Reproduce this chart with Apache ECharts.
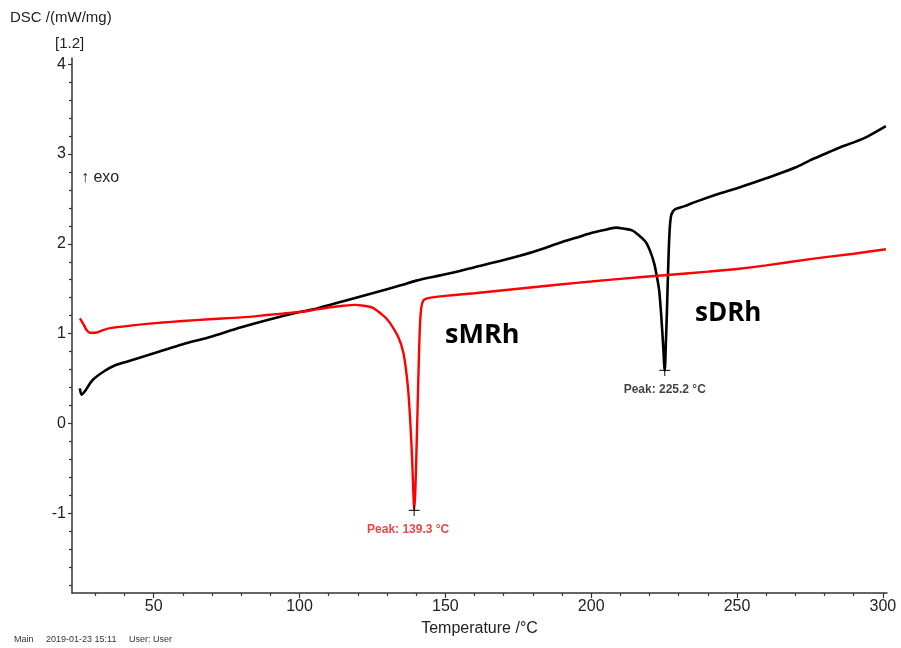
<!DOCTYPE html>
<html>
<head>
<meta charset="utf-8">
<title>DSC</title>
<script src="https://cdn.jsdelivr.net/npm/echarts@6/dist/echarts.min.js"></script>
<style>
  html, body { margin: 0; padding: 0; background: #fff; }
  #chart { width: 901px; height: 648px; }
</style>
</head>
<body>
<div id="chart"></div>
<script>
// sMRh run (red trace)
const tempRed = [24.7, 26, 27, 28.1, 30, 32, 35, 40, 45, 52, 60, 69, 80, 90, 100, 106, 110, 115, 119, 122, 125, 128, 130, 132, 134, 135.5, 136.5, 137.3, 138, 138.6, 139, 139.3, 139.7, 140.1, 140.5, 140.9, 141.3, 141.8, 142.5, 143.5, 145, 150, 160, 175, 190, 200, 210, 225, 240, 250, 260, 275, 290, 301];
const dscRed = [1.17, 1.10, 1.04, 1.01, 1.01, 1.03, 1.06, 1.08, 1.10, 1.12, 1.14, 1.16, 1.18, 1.21, 1.24, 1.27, 1.29, 1.31, 1.32, 1.31, 1.29, 1.22, 1.16, 1.07, 0.95, 0.80, 0.60, 0.35, 0.0, -0.4, -0.75, -0.97, -0.75, -0.3, 0.2, 0.7, 1.1, 1.3, 1.37, 1.39, 1.40, 1.42, 1.45, 1.50, 1.55, 1.58, 1.61, 1.65, 1.69, 1.72, 1.76, 1.83, 1.89, 1.94];

// sDRh run (black trace)
const tempBlack = [24.7, 25.3, 26.5, 29, 33, 37, 41, 46, 52, 60, 69, 80, 90, 100, 106, 115, 125, 135, 140, 150, 160, 170, 180, 190, 196, 200, 204, 208.5, 211, 214, 216.5, 218.7, 220.3, 221.6, 222.6, 223.3, 224, 224.6, 225.2, 225.6, 226, 226.4, 226.8, 227.3, 228, 229, 232, 236, 244, 250, 260, 270, 275, 280, 285, 290, 295, 301];
const dscBlack = [0.39, 0.32, 0.36, 0.48, 0.58, 0.65, 0.69, 0.74, 0.80, 0.88, 0.96, 1.07, 1.16, 1.24, 1.28, 1.36, 1.45, 1.54, 1.59, 1.66, 1.74, 1.82, 1.91, 2.02, 2.08, 2.12, 2.15, 2.18, 2.17, 2.15, 2.09, 2.02, 1.91, 1.78, 1.62, 1.48, 1.20, 0.90, 0.59, 0.90, 1.30, 1.75, 2.10, 2.30, 2.36, 2.39, 2.42, 2.47, 2.56, 2.62, 2.73, 2.85, 2.93, 3.00, 3.07, 3.13, 3.20, 3.31];

// Peak annotations
const peakTempRed = 139.3, peakValRed = -0.97;
const peakTempBlack = 225.2, peakValBlack = 0.59;

// Axis ticks
const xMajorTicks = [50, 100, 150, 200, 250, 300];
const xMinorTicks = [30, 40, 60, 70, 80, 90, 110, 120, 130, 140, 160, 170, 180, 190, 210, 220, 230, 240, 260, 270, 280, 290];
const yMajorTicks = [-1, 0, 1, 2, 3, 4];
const yMinorTicks = [-1.8, -1.6, -1.4, -1.2, -0.8, -0.6, -0.4, -0.2, 0.2, 0.4, 0.6, 0.8, 1.2, 1.4, 1.6, 1.8, 2.2, 2.4, 2.6, 2.8, 3.2, 3.4, 3.6, 3.8];

const X_MIN = 22, X_MAX = 301.4, Y_MIN = -1.89, Y_MAX = 4.07;
const FONT = '"Liberation Sans", Arial, sans-serif';

const zip = (a, b) => a.map((v, i) => [v, b[i]]);
const plus = 'path://M0,5L10,5M5,0L5,10';

const chart = echarts.init(document.getElementById('chart'), null, { renderer: 'canvas' });

chart.setOption({
  animation: false,
  backgroundColor: '#fff',
  grid: { left: 72, right: 14, top: 58, bottom: 55, containLabel: false },
  xAxis: [
    {
      type: 'value', min: X_MIN, max: X_MAX,
      name: 'Temperature /°C', nameLocation: 'middle', nameGap: 28,
      nameTextStyle: { fontFamily: FONT, fontSize: 16, color: '#222' },
      axisLine: { show: true, onZero: false, lineStyle: { color: '#333', width: 1.5 } },
      axisTick: { show: true, customValues: xMajorTicks, length: 5, lineStyle: { color: '#333', width: 1.2 } },
      axisLabel: { customValues: xMajorTicks, fontFamily: FONT, fontSize: 16, color: '#222', margin: 6 },
      splitLine: { show: false }
    },
    {
      type: 'value', min: X_MIN, max: X_MAX, position: 'bottom',
      axisLine: { show: false, onZero: false },
      axisTick: { show: true, customValues: xMinorTicks, length: 3, lineStyle: { color: '#333', width: 1.2 } },
      axisLabel: { show: false },
      splitLine: { show: false }
    }
  ],
  yAxis: [
    {
      type: 'value', min: Y_MIN, max: Y_MAX,
      axisLine: { show: true, onZero: false, lineStyle: { color: '#333', width: 1.5 } },
      axisTick: { show: true, customValues: yMajorTicks, length: 4, lineStyle: { color: '#333', width: 1.2 } },
      axisLabel: { customValues: yMajorTicks, fontFamily: FONT, fontSize: 16, color: '#222', margin: 6 },
      splitLine: { show: false }
    },
    {
      type: 'value', min: Y_MIN, max: Y_MAX, position: 'left',
      axisLine: { show: false, onZero: false },
      axisTick: { show: true, customValues: yMinorTicks, length: 3, lineStyle: { color: '#333', width: 1.2 } },
      axisLabel: { show: false },
      splitLine: { show: false }
    }
  ],
  series: [
    {
      name: 'sDRh', type: 'line', data: zip(tempBlack, dscBlack),
      showSymbol: false, smooth: 0.3,
      lineStyle: { color: '#000', width: 2.6 }
    },
    {
      name: 'sMRh', type: 'line', data: zip(tempRed, dscRed),
      showSymbol: false, smooth: 0.3,
      lineStyle: { color: '#f00', width: 2.4 }
    },
    {
      name: 'peaks', type: 'scatter',
      data: [
        {
          value: [peakTempRed, peakValRed],
          label: { formatter: 'Peak: ' + peakTempRed.toFixed(1) + ' °C', color: '#e8141b', offset: [-6, 0] }
        },
        {
          value: [peakTempBlack, peakValBlack],
          label: { formatter: 'Peak: ' + peakTempBlack.toFixed(1) + ' °C', color: '#111' }
        }
      ],
      symbol: plus, symbolSize: 11,
      itemStyle: { color: 'transparent', borderColor: '#000', borderWidth: 1.2 },
      label: { show: true, position: 'bottom', distance: 7, fontFamily: FONT, fontSize: 12, fontWeight: 'bold' },
      z: 5
    }
  ],
  graphic: [
    { type: 'text', left: 10, top: 10, style: { text: 'DSC /(mW/mg)', font: '15px ' + FONT, fill: '#222' } },
    { type: 'text', left: 55, top: 36, style: { text: '[1.2]', font: '15px ' + FONT, fill: '#222' } },
    { type: 'text', left: 81, top: 170, style: { text: '↑ exo', font: '16px ' + FONT, fill: '#222' } },
    { type: 'text', left: 445, top: 322, style: { text: 'sMRh', font: 'bold 27px "Open Sans", sans-serif', fill: '#000' } },
    { type: 'text', left: 695, top: 301, style: { text: 'sDRh', font: 'bold 26px "Open Sans", sans-serif', fill: '#000' } },
    { type: 'text', left: 14, top: 635, style: { text: 'Main     2019-01-23 15:11     User: User', font: '9px ' + FONT, fill: '#333' } }
  ]
});
</script>
</body>
</html>
